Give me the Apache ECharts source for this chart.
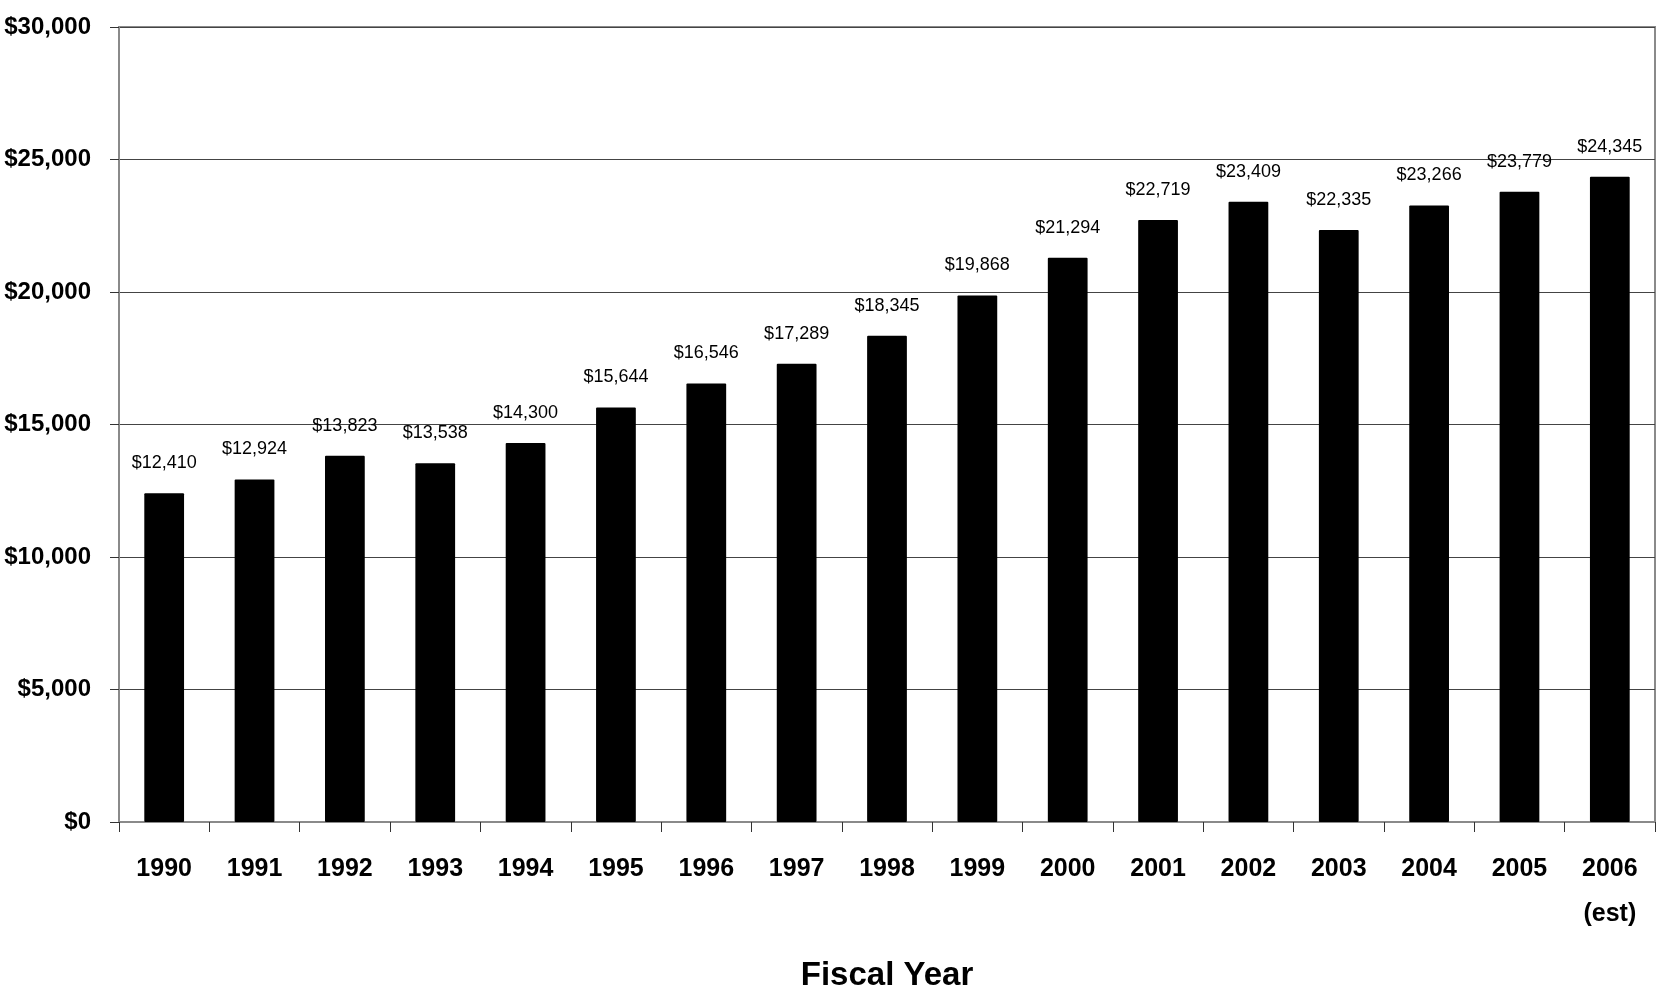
<!DOCTYPE html>
<html>
<head>
<meta charset="utf-8">
<script src="https://cdn.jsdelivr.net/npm/echarts@6/dist/echarts.min.js"></script>
<style>
  html, body { margin: 0; padding: 0; background: #fff; }
  #chart { width: 1657px; height: 995px; }
</style>
</head>
<body>
<div id="chart"></div>
<script>
// Fiscal years shown on the horizontal axis
const years = ['1990', '1991', '1992', '1993', '1994', '1995', '1996', '1997', '1998',
  '1999', '2000', '2001', '2002', '2003', '2004', '2005', '2006\n(est)'];
// Spending per fiscal year, in dollars
const amounts = [12410, 12924, 13823, 13538, 14300, 15644, 16546, 17289, 18345,
  19868, 21294, 22719, 23409, 22335, 23266, 23779, 24345];
// Value axis range
const yMin = 0;
const yMax = 30000;
const yStep = 5000;

const FONT = '"Liberation Sans Narrow", "Liberation Sans", Arial, sans-serif';
const money = v => '$' + Number(v).toLocaleString('en-US');

const chart = echarts.init(document.getElementById('chart'));
chart.setOption({
  backgroundColor: '#ffffff',
  animation: false,
  grid: {
    left: 119, right: 2, top: 27, bottom: 173,
    outerBoundsMode: 'none',
    containLabel: false,
    show: true, borderColor: '#8a8a8a', borderWidth: 2, backgroundColor: 'transparent'
  },
  xAxis: {
    type: 'category',
    data: years,
    axisLine: { lineStyle: { color: '#8a8a8a', width: 2 } },
    axisTick: { show: true, length: 10, lineStyle: { color: '#333', width: 1 } },
    axisLabel: {
      color: '#000', fontFamily: FONT, fontWeight: 'bold', fontSize: 25,
      lineHeight: 45, margin: 25
    },
    name: 'Fiscal Year',
    nameLocation: 'middle',
    nameGap: 137,
    nameTextStyle: { color: '#000', fontFamily: FONT, fontWeight: 'bold', fontSize: 33 }
  },
  yAxis: {
    type: 'value',
    min: yMin, max: yMax, interval: yStep,
    axisLine: { show: true, lineStyle: { color: '#8a8a8a', width: 2 } },
    axisTick: { show: true, length: 9, lineStyle: { color: '#333', width: 1 } },
    splitLine: { show: true, lineStyle: { color: '#444', width: 1 } },
    axisLabel: {
      color: '#000', fontFamily: FONT, fontWeight: 'bold', fontSize: 24,
      margin: 28, formatter: money
    }
  },
  series: [{
    type: 'bar',
    data: amounts,
    barWidth: '44%',
    itemStyle: { color: '#000', borderRadius: 1 },
    label: {
      show: true, position: 'top', distance: 21,
      color: '#000', fontFamily: FONT, fontSize: 18,
      formatter: p => money(p.value)
    }
  }]
});
</script>
</body>
</html>
